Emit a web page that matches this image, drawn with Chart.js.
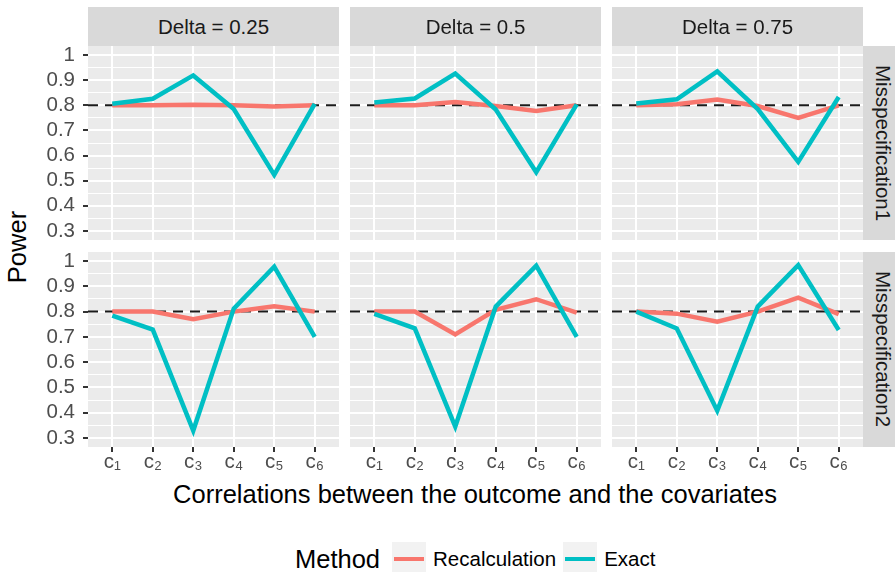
<!DOCTYPE html>
<html>
<head>
<meta charset="utf-8">
<script src="https://cdn.jsdelivr.net/npm/chart.js@4.4.0/dist/chart.umd.min.js"></script>
<style>
  body { margin: 0; width: 895px; height: 572px; overflow: hidden; background: #fff; position: relative;
         font-family: 'Liberation Sans', Arial, sans-serif; }
  canvas { position: absolute; left: 0; top: 0; }
  .strip { position: absolute; background: #d9d9d9; color: #1a1a1a; font-size: 20.5px;
           display: flex; align-items: center; justify-content: center; white-space: nowrap; }
  .strip.side span { writing-mode: vertical-rl; }
  .title { position: absolute; font-size: 25.5px; color: #000; white-space: nowrap; }
  #legend { position: absolute; left: 295px; top: 542px; height: 34px; display: flex; align-items: center; }
  #legend .name { font-size: 25.5px; margin-right: 12px; }
  #legend .key { width: 34px; height: 34px; background: #f2f2f2; display: flex; align-items: center; justify-content: center; }
  #legend .key div { width: 30px; height: 4.5px; }
  #legend .lab { font-size: 20.5px; margin: 0 7px 0 7px; }
</style>
</head>
<body>
<div class="title" id="ytitle" style="left:17px; top:247px; transform: translate(-50%, -50%) rotate(-90deg);">Power</div>
<div class="title" style="left:475px; top:494px; transform: translate(-50%, -50%);">Correlations between the outcome and the covariates</div>
<div id="legend"></div>
<script>
const categories = ['c₁', 'c₂', 'c₃', 'c₄', 'c₅', 'c₆']
const deltaLabels = ['Delta = 0.25', 'Delta = 0.5', 'Delta = 0.75']
const specLabels = ['Misspecification1', 'Misspecification2']
const methods = ['Recalculation', 'Exact']
const methodColors = ['#F8766D', '#00BFC4']
const yMajor = [0.3, 0.4, 0.5, 0.6, 0.7, 0.8, 0.9, 1]
const yMinor = [0.35, 0.45, 0.55, 0.65, 0.75, 0.85, 0.95]
const target = 0.8

// Misspecification1
const recalcM1D25 = [0.80, 0.80, 0.802, 0.80, 0.795, 0.80]
const exactM1D25 = [0.806, 0.826, 0.919, 0.785, 0.523, 0.806]
const recalcM1D50 = [0.80, 0.80, 0.813, 0.797, 0.777, 0.80]
const exactM1D50 = [0.811, 0.827, 0.926, 0.783, 0.534, 0.804]
const recalcM1D75 = [0.80, 0.804, 0.823, 0.797, 0.75, 0.80]
const exactM1D75 = [0.807, 0.824, 0.935, 0.785, 0.575, 0.833]
// Misspecification2
const recalcM2D25 = [0.80, 0.80, 0.77, 0.80, 0.821, 0.80]
const exactM2D25 = [0.784, 0.729, 0.329, 0.812, 0.978, 0.70]
const recalcM2D50 = [0.80, 0.80, 0.71, 0.807, 0.849, 0.796]
const exactM2D50 = [0.791, 0.734, 0.345, 0.82, 0.982, 0.70]
const recalcM2D75 = [0.80, 0.792, 0.76, 0.80, 0.855, 0.79]
const exactM2D75 = [0.80, 0.733, 0.408, 0.82, 0.984, 0.727]

const series = [
    [[recalcM1D25, exactM1D25], [recalcM1D50, exactM1D50], [recalcM1D75, exactM1D75]],
    [[recalcM2D25, exactM2D25], [recalcM2D50, exactM2D50], [recalcM2D75, exactM2D75]]
]

// panel geometry (ggplot facet grid)
const W = 895, H = 572
const colLeft = [88, 350, 612], panelW = 251
const rowTop = [46, 252], rowBottom = [240, 447]
const yAxisW = 58, xAxisH = 40

const panelBg = {
    id: 'panelBg',
    beforeDraw(chart) {
        const { ctx, chartArea: a } = chart
        ctx.save()
        ctx.fillStyle = '#EBEBEB'
        ctx.fillRect(a.left, a.top, a.right - a.left, a.bottom - a.top)
        ctx.restore()
    }
}

const refLine = {
    id: 'refLine',
    beforeDatasetsDraw(chart) {
        const { ctx, chartArea: a, scales } = chart
        const y = scales.y.getPixelForValue(target)
        ctx.save()
        ctx.strokeStyle = '#1a1a1a'
        ctx.lineWidth = 2
        ctx.setLineDash([10, 7])
        ctx.beginPath()
        ctx.moveTo(a.left, y)
        ctx.lineTo(a.right, y)
        ctx.stroke()
        ctx.restore()
    }
}

const isMinor = v => Math.round(v * 100) % 10 !== 0
const font = { family: "'Liberation Sans', Arial, sans-serif", size: 20.5 }

series.forEach((row, r) => {
    row.forEach((pair, c) => {
        const showY = c === 0
        const showX = r === 1
        const canvas = document.createElement('canvas')
        canvas.width = W
        canvas.height = H
        document.body.appendChild(canvas)

        new Chart(canvas.getContext('2d'), {
            type: 'line',
            data: {
                datasets: pair.map((vals, k) => ({
                    label: methods[k],
                    data: vals.map((v, i) => ({ x: i + 1, y: v })),
                    borderColor: methodColors[k],
                    borderWidth: 4.5,
                    pointRadius: 0,
                    fill: false,
                    tension: 0,
                    order: k === 1 ? 0 : 1
                }))
            },
            options: {
                responsive: false,
                animation: false,
                events: [],
                layout: {
                    padding: {
                        left: colLeft[c] - (showY ? yAxisW : 0),
                        right: W - colLeft[c] - panelW,
                        top: rowTop[r],
                        bottom: H - rowBottom[r] - (showX ? xAxisH : 0)
                    }
                },
                plugins: { legend: { display: false }, tooltip: { enabled: false } },
                scales: {
                    x: {
                        type: 'linear',
                        min: 0.4,
                        max: 6.6,
                        afterBuildTicks: s => { s.ticks = categories.map((_, i) => ({ value: i + 1 })) },
                        afterFit: s => { s.height = showX ? xAxisH : 0 },
                        border: { display: false },
                        grid: {
                            color: '#ffffff',
                            lineWidth: 2,
                            drawTicks: showX,
                            tickLength: 5,
                            tickColor: '#333333',
                            tickWidth: 2
                        },
                        ticks: {
                            display: showX,
                            autoSkip: false,
                            maxRotation: 0,
                            padding: -2,
                            color: '#4D4D4D',
                            font: font,
                            callback: v => categories[v - 1]
                        }
                    },
                    y: {
                        type: 'linear',
                        min: 0.264,
                        max: 1.036,
                        afterBuildTicks: s => { s.ticks = yMajor.concat(yMinor).sort((a, b) => a - b).map(v => ({ value: v })) },
                        afterFit: s => { s.width = showY ? yAxisW : 0 },
                        border: { display: false },
                        grid: {
                            color: '#ffffff',
                            lineWidth: ctx => isMinor(ctx.tick.value) ? 1 : 2,
                            drawTicks: showY,
                            tickLength: 5,
                            tickColor: ctx => isMinor(ctx.tick.value) ? 'rgba(0,0,0,0)' : '#333333',
                            tickWidth: 2
                        },
                        ticks: {
                            display: showY,
                            autoSkip: false,
                            padding: 8,
                            color: '#4D4D4D',
                            font: font,
                            callback: v => isMinor(v) ? '' : String(v)
                        }
                    }
                }
            },
            plugins: [panelBg, refLine]
        })
    })
})

// facet strips
deltaLabels.forEach((label, c) => {
    const d = document.createElement('div')
    d.className = 'strip'
    d.style.cssText = `left:${colLeft[c]}px; top:7px; width:${panelW}px; height:39px;`
    d.textContent = label
    document.body.appendChild(d)
})
specLabels.forEach((label, r) => {
    const d = document.createElement('div')
    d.className = 'strip side'
    d.style.cssText = `left:863px; top:${rowTop[r]}px; width:39px; height:${rowBottom[r] - rowTop[r]}px;`
    d.innerHTML = `<span>${label}</span>`
    document.body.appendChild(d)
})

// legend
const legend = document.getElementById('legend')
legend.innerHTML = `<span class="name">Method</span>` + methods.map((m, i) => `
    <div class="key"><div style="background:${methodColors[i]}"></div></div>
    <span class="lab">${m}</span>`).join('')
</script>
</body>
</html>
